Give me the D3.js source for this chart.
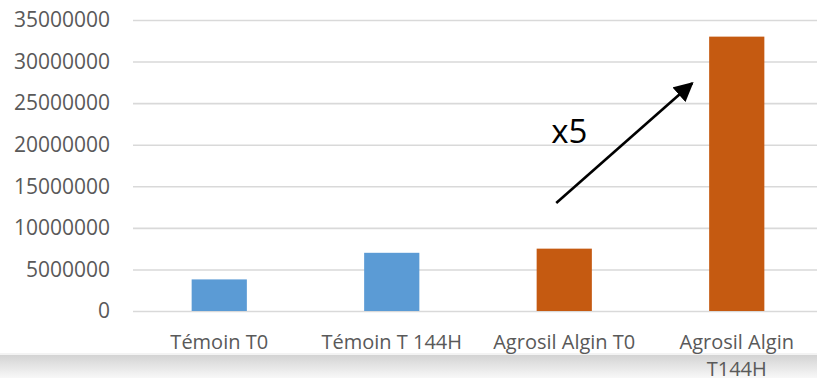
<!DOCTYPE html>
<html>
<head>
<meta charset="utf-8">
<script src="https://cdn.jsdelivr.net/npm/d3@7"></script>
<style>
  html, body { margin: 0; padding: 0; background: #fff; overflow: hidden; }
  svg { display: block; }
</style>
</head>
<body>
<svg id="chart" width="817" height="378"></svg>
<script>
const categories = ["Témoin T0", "Témoin T 144H", "Agrosil Algin T0", "Agrosil Algin T144H"];
const categoryLines = [["Témoin T0"], ["Témoin T 144H"], ["Agrosil Algin T0"], ["Agrosil Algin", "T144H"]];
const values = [3800000, 7000000, 7500000, 33000000];
const barColors = ["#5B9BD5", "#5B9BD5", "#C55A11", "#C55A11"];
const yTicks = [0, 5000000, 10000000, 15000000, 20000000, 25000000, 30000000, 35000000];
const annotationText = "x5";

const svg = d3.select("#chart");
const W = 817, H = 378;
const plot = { left: 133, right: 823, top: 20, bottom: 311 };
const FONT = "'Open Sans', 'Noto Sans', sans-serif";

// bottom gray band
const defs = svg.append("defs");
const grad = defs.append("linearGradient").attr("id", "band").attr("x1", 0).attr("y1", 0).attr("x2", 0).attr("y2", 1);
grad.append("stop").attr("offset", "0%").attr("stop-color", "#d3d3d3");
grad.append("stop").attr("offset", "100%").attr("stop-color", "#f8f8f8");
svg.append("rect").attr("x", 0).attr("y", 355).attr("width", W).attr("height", H - 355).attr("fill", "url(#band)");
svg.append("rect").attr("x", 0).attr("y", 353).attr("width", W).attr("height", 2).attr("fill", "#f3f3f3");

const x = d3.scaleBand().domain(categories).range([plot.left, plot.right]).paddingInner(0.68).paddingOuter(0.34);
const y = d3.scaleLinear().domain([0, 35000000]).range([plot.bottom, plot.top]);

// gridlines
const yAxis = d3.axisLeft(y).tickValues(yTicks).tickSize(-(plot.right - plot.left)).tickFormat(d3.format("d")).tickPadding(23);
const gy = svg.append("g").attr("transform", `translate(${plot.left},0)`).call(yAxis);
gy.select(".domain").remove();
gy.selectAll(".tick line").attr("stroke", "#d9d9d9").attr("stroke-width", 1.6);
gy.selectAll(".tick text")
  .attr("fill", "#595959")
  .style("font-family", FONT)
  .style("font-size", "21px");

// bars
svg.append("g").selectAll("rect").data(values).join("rect")
  .attr("x", (d, i) => x(categories[i]))
  .attr("width", x.bandwidth())
  .attr("y", d => y(d))
  .attr("height", d => y(0) - y(d))
  .attr("fill", (d, i) => barColors[i]);

// category labels
const gx = svg.append("g");
categories.forEach((c, i) => {
  const t = gx.append("text")
    .attr("x", x(c) + x.bandwidth() / 2)
    .attr("y", 349)
    .attr("text-anchor", "middle")
    .attr("fill", "#595959")
    .style("font-family", FONT)
    .style("font-size", "20px");
  categoryLines[i].forEach((line, j) => {
    t.append("tspan").attr("x", x(c) + x.bandwidth() / 2).attr("dy", j === 0 ? 0 : 27).text(line);
  });
});

// annotation arrow
defs.append("marker").attr("id", "arrow").attr("viewBox", "0 0 10 10")
  .attr("refX", 9).attr("refY", 5).attr("markerWidth", 7.5).attr("markerHeight", 7.5)
  .attr("markerUnits", "strokeWidth").attr("orient", "auto")
  .append("path").attr("d", "M0,0 L10,5 L0,10 z").attr("fill", "#000");

const x0 = x(categories[2]) + x.bandwidth() / 2 - 8;
const x1 = x(categories[3]) - 17;
svg.append("line")
  .attr("x1", x0).attr("y1", y(13000000))
  .attr("x2", x1).attr("y2", y(27400000))
  .attr("stroke", "#000").attr("stroke-width", 2.6)
  .attr("marker-end", "url(#arrow)");

svg.append("text")
  .attr("x", x(categories[2]) + x.bandwidth() / 2 - 13)
  .attr("y", 143)
  .attr("fill", "#000")
  .style("font-family", FONT)
  .style("font-size", "33px")
  .text(annotationText);
</script>
</body>
</html>
